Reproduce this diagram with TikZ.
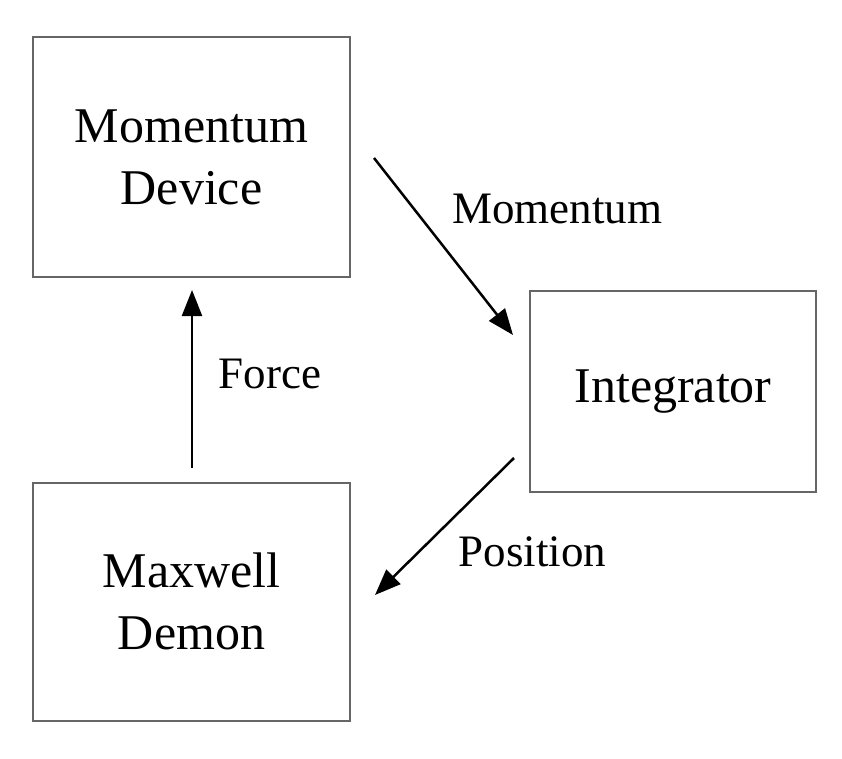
\documentclass[tikz,border=0pt]{standalone}
\usepackage{fontspec}
\setmainfont{Liberation Serif}
\usetikzlibrary{arrows.meta}
\definecolor{boxgray}{HTML}{666666}
\begin{document}
\begin{tikzpicture}[x=1pt,y=-1pt,
  box/.style={draw=boxgray, line width=2pt, inner sep=0pt, align=center,
    font=\fontsize{50}{62}\selectfont},
  lbl/.style={anchor=base, inner sep=0pt, font=\fontsize{45}{54}\selectfont},
  conn/.style={line width=2.5pt, -{Triangle[length=26pt,width=20pt]}}]
\useasboundingbox (0,0) rectangle (842,758);
\node[box, minimum width=317pt, minimum height=240pt] (md) at (191.5,157) {Momentum\\Device};
\node[box, minimum width=286pt, minimum height=201pt] (int) at (673,391.5) {Integrator};
\node[box, minimum width=317pt, minimum height=238pt] (mx) at (191.5,601.5) {Maxwell\\Demon};
\coordinate (a1s) at (374,158);
\coordinate (a1e) at (513,335);
\coordinate (a2s) at (514,458);
\coordinate (a2e) at (375,595);
\coordinate (a3s) at (192,468);
\coordinate (a3e) at (192,290);
\draw[conn] (a1s) -- (a1e);
\draw[conn] (a2s) -- (a2e);
\draw[conn] (a3s) -- (a3e);
\node[lbl] (lm) at (557,223) {Momentum};
\node[lbl] (lf) at (270,388) {Force};
\node[lbl] (lp) at (532.5,566) {Position};
\end{tikzpicture}
\end{document}
